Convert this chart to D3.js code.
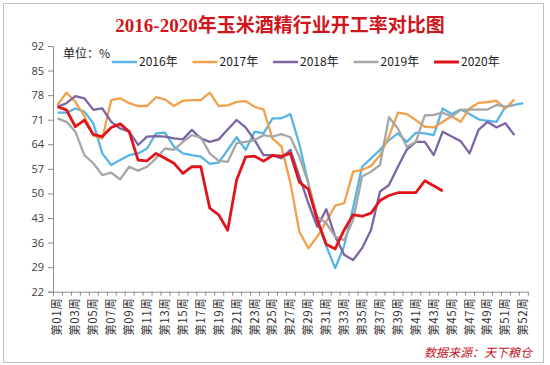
<!DOCTYPE html>
<html>
<head>
<meta charset="utf-8">
<script src="https://cdn.jsdelivr.net/npm/d3@7"></script>
<style>
  body { margin: 0; background: #fff; }
  svg { display: block; }
</style>
</head>
<body>
<script>
// 开工率数据 (%), index 0 = 第01周
const s2016 = [73.0,73.0,74.2,73.3,70.0,61.4,58.1,59.5,60.9,61.4,62.8,67.1,67.3,63.3,61.4,60.9,60.5,58.4,58.8,62.4,66.0,62.4,67.6,67.1,71.4,71.4,72.6,64.0,53.0,42.0,35.0,28.7,35.0,46.0,57.6,60.0,62.4,65.2,67.1,64.7,67.3,67.1,66.6,74.2,72.6,73.9,72.6,71.1,70.7,70.4,74.7,75.2,75.7];
const s2017 = [75.2,78.7,76.1,72.0,66.5,65.6,76.6,77.1,75.7,74.9,74.9,77.4,76.8,74.9,76.4,76.6,76.6,78.7,74.9,75.1,76.1,76.3,74.7,73.9,65.6,63.4,53.0,39.1,34.4,37.7,42.0,46.5,47.2,56.2,56.7,57.8,60.9,66.2,73.0,72.6,70.9,69.0,68.8,70.4,72.0,70.4,74.2,75.8,76.0,76.4,74.2,76.8];
const s2018 = [74.7,75.7,77.7,77.1,73.8,74.2,70.4,68.5,67.6,63.8,66.2,66.3,66.2,65.7,65.4,68.1,65.7,64.7,65.4,68.2,70.9,68.8,65.2,60.9,60.9,60.0,62.4,54.8,47.2,40.5,45.5,37.7,32.5,31.0,34.4,39.6,50.5,52.4,57.6,62.5,64.7,64.7,60.9,67.6,66.2,64.9,61.4,68.1,70.4,68.8,70.0,66.6];
const s2019 = [71.4,70.4,67.6,60.9,58.6,55.2,55.9,54.0,57.6,56.5,57.6,60.0,62.8,62.4,64.7,66.6,66.0,61.4,59.3,59.0,64.3,64.7,65.2,66.6,66.2,66.9,66.0,60.5,52.9,43.4,41.5,37.7,36.7,42.4,54.8,56.2,58.1,71.7,68.5,63.2,64.7,72.2,72.4,73.0,71.9,73.8,73.9,73.9,73.9,75.2,74.7,75.2];
const s2020 = [74.7,73.8,69.0,70.9,66.8,66.2,68.8,69.8,67.6,59.5,59.3,61.4,60.0,58.6,55.7,57.6,57.6,45.8,43.9,39.5,53.8,60.4,60.6,59.2,60.8,60.6,61.4,53.2,51.2,42.5,35.5,34.2,39.6,43.9,43.5,44.4,48.0,49.4,50.2,50.2,50.2,53.6,52.2,50.7];

const seriesNames = ["2016年", "2017年", "2018年", "2019年", "2020年"];
const seriesColors = ["#57b5e6", "#f2a04a", "#7d64a2", "#a6a6a6", "#e0141a"];
const seriesData = [s2016, s2017, s2018, s2019, s2020];

const yTicks = [22, 29, 36, 43, 50, 57, 64, 71, 78, 85, 92];
const weekCount = 53;
const xTickLabels = ["第01周","第03周","第05周","第07周","第09周","第11周","第13周","第15周","第17周","第19周","第21周","第23周","第25周","第27周","第29周","第31周","第33周","第35周","第37周","第39周","第41周","第43周","第45周","第47周","第49周","第51周","第52周"];

const W = 550, H = 365;
const svg = d3.select("body").append("svg")
    .attr("width", W)
    .attr("height", H);

// 外框
svg.append("rect")
    .attr("x", 3.5).attr("y", 3.5)
    .attr("width", 540).attr("height", 359)
    .attr("fill", "#fff")
    .attr("stroke", "#bfbfbf");

const plotL = 53, plotR = 527.8, plotT = 46, plotB = 291.7;

const x = d3.scaleBand()
    .domain(d3.range(weekCount))
    .range([plotL, plotR]);
const xEdge = d3.scaleLinear()
    .domain([0, weekCount])
    .range([plotL, plotR]);
const y = d3.scaleLinear()
    .domain([22, 92])
    .range([plotB, plotT]);

// title
svg.append("text")
    .attr("x", 280).attr("y", 32)
    .attr("text-anchor", "middle")
    .style("font-family", "'Liberation Serif', 'Noto Sans CJK SC', serif")
    .style("font-weight", "bold")
    .style("font-size", "19px")
    .attr("fill", "#d0161c")
    .text("2016-2020年玉米酒精行业开工率对比图");

// y axis
const yAxis = svg.append("g")
    .attr("transform", "translate(" + plotL + ",0)")
    .call(d3.axisLeft(y).tickValues(yTicks).tickSize(5).tickPadding(4));
yAxis.select(".domain").attr("stroke", "#8c8c8c");
yAxis.selectAll(".tick line").attr("stroke", "#8c8c8c");
yAxis.selectAll(".tick text")
    .style("font-family", "'Open Sans', 'Noto Sans', sans-serif")
    .style("font-size", "11px")
    .attr("fill", "#404040");

// x axis: tick marks on category edges
const xAxis = svg.append("g")
    .attr("transform", "translate(0," + plotB + ")")
    .call(d3.axisBottom(xEdge).tickValues(d3.range(weekCount + 1)).tickFormat("").tickSize(4).tickSizeOuter(0));
xAxis.select(".domain").attr("stroke", "#8c8c8c");
xAxis.selectAll(".tick line").attr("stroke", "#8c8c8c");

// 周标签
svg.append("g").selectAll("text")
    .data(xTickLabels)
    .join("text")
    .attr("transform", (d, i) => "translate(" + (x(i * 2) + x.bandwidth() / 2 + 4) + "," + (plotB + 6) + ") rotate(-90)")
    .attr("text-anchor", "end")
    .style("font-family", "'Noto Sans CJK SC', sans-serif")
    .style("font-size", "11.5px")
    .style("letter-spacing", "0.6px")
    .attr("fill", "#333")
    .text(d => d);

// lines
const line = d3.line()
    .x((d, i) => x(i) + x.bandwidth() / 2)
    .y(d => y(d));

svg.append("g").selectAll("path")
    .data(seriesData)
    .join("path")
    .attr("fill", "none")
    .attr("stroke", (d, i) => seriesColors[i])
    .attr("stroke-width", (d, i) => i === 4 ? 2.8 : 2.3)
    .attr("stroke-linejoin", "round")
    .attr("d", line);

// 单位
svg.append("text")
    .attr("x", 63).attr("y", 58)
    .style("font-family", "'Noto Sans CJK SC', sans-serif")
    .style("font-size", "12px")
    .attr("fill", "#222")
    .text("单位：%");

// legend
const legend = svg.append("g").selectAll("g")
    .data(seriesNames)
    .join("g")
    .attr("transform", (d, i) => "translate(" + (112 + i * 80.5) + ",62)");
legend.append("line")
    .attr("x1", 0).attr("x2", 25)
    .attr("stroke", (d, i) => seriesColors[i])
    .attr("stroke-width", (d, i) => i === 4 ? 3 : 2.5);
legend.append("text")
    .attr("x", 27).attr("dy", "0.36em")
    .style("font-family", "'Noto Sans CJK SC', sans-serif")
    .style("font-size", "12px")
    .attr("fill", "#222")
    .text(d => d);

// source
svg.append("text")
    .attr("x", 532).attr("y", 357)
    .attr("text-anchor", "end")
    .style("font-family", "'Noto Sans CJK SC', sans-serif")
    .style("font-size", "12px")
    .style("font-style", "italic")
    .attr("fill", "#c0141c")
    .text("数据来源：天下粮仓");
</script>
</body>
</html>
